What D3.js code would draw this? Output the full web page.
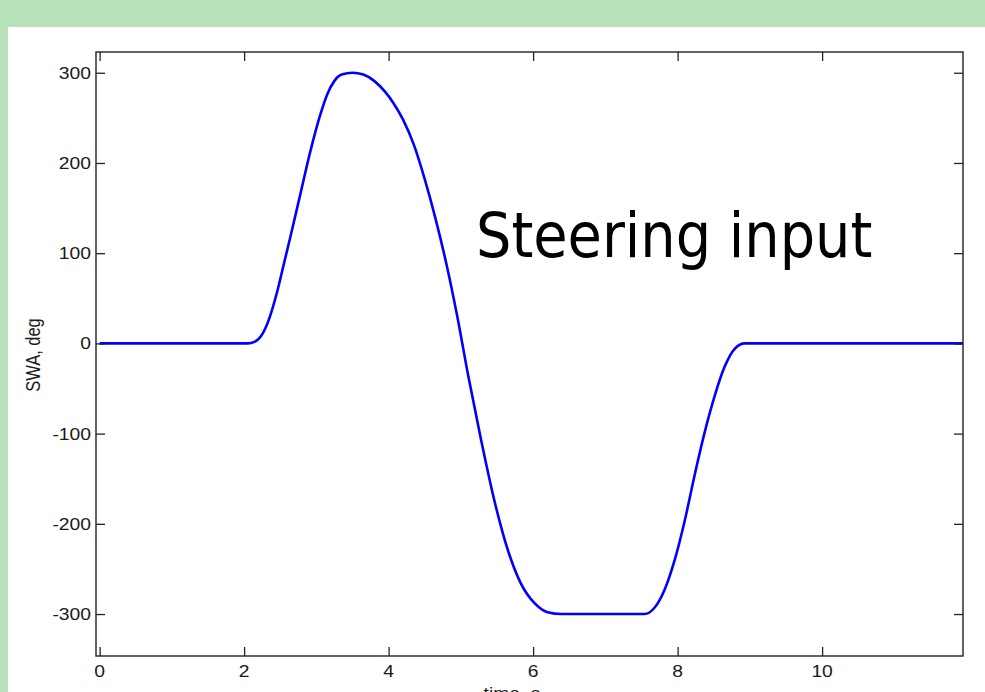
<!DOCTYPE html>
<html>
<head>
<meta charset="utf-8">
<script src="https://cdn.jsdelivr.net/npm/d3@7"></script>
<style>
  html, body { margin: 0; padding: 0; background: #fff; }
  svg { display: block; }
  .tick-label { font-family: "Liberation Sans", Arial, sans-serif; font-size: 16.5px; fill: #1a1a1a; }
</style>
</head>
<body>
<div id="chart"></div>
<script>
// ---------- Data ----------
const timeS = [0, 2.05, 2.15, 2.25, 2.35, 2.45, 2.55, 2.64, 2.78, 2.92, 3.06, 3.15, 3.25, 3.35,
  3.50, 3.65, 3.80, 3.95, 4.07, 4.20, 4.35, 4.50, 4.65, 4.80, 4.95, 5.10, 5.28, 5.46, 5.65,
  5.83, 6.02, 6.20, 6.39, 7.54, 7.68, 7.82, 7.96, 8.10, 8.23, 8.37, 8.51, 8.65, 8.79, 8.93, 11.95];
const swaDeg = [0, 0, 2, 10, 28, 55, 88, 118, 166, 214, 255, 276, 291, 298,
  300, 298, 291, 279, 266, 248, 220, 182, 138, 88, 30, -35, -107, -173, -229,
  -266, -288, -298, -300, -300, -293, -273, -240, -196, -148, -100, -59, -26, -6, 0, 0];

const xTicks = [0, 2, 4, 6, 8, 10];
const yTicks = [300, 200, 100, 0, -100, -200, -300];

const W = 985, H = 692;
const box = { left: 96, right: 963, top: 52, bottom: 656 };
const stretch = 1.17; // the source figure is a bit wide

const svg = d3.select("#chart").append("svg")
  .attr("width", W)
  .attr("height", H);

// slide background
svg.append("rect").attr("width", W).attr("height", H).attr("fill", "#ffffff");
svg.append("rect").attr("width", W).attr("height", 27).attr("fill", "#b7e1b9");
svg.append("rect").attr("width", 8).attr("height", H).attr("fill", "#b7e1b9");

const x = d3.scaleLinear().domain([-0.05, 11.95]).range([box.left, box.right]);
const y = d3.scaleLinear().domain([-346.5, 323]).range([box.bottom, box.top]);

// ---------- Curve ----------
const pts = timeS.map((t, i) => [t, swaDeg[i]]);
const line = d3.line()
  .x(d => x(d[0]))
  .y(d => y(d[1]))
  .curve(d3.curveMonotoneX);

svg.append("path")
  .datum(pts)
  .attr("d", line)
  .attr("fill", "none")
  .attr("stroke", "#0000ff")
  .attr("stroke-width", 2.6)
  .attr("stroke-linejoin", "round");

// ---------- Axes (inward ticks on all four sides) ----------
function styleAxis(g) {
  g.select(".domain").remove();
  g.selectAll(".tick line").attr("stroke", "#222").attr("stroke-width", 1.3);
}

svg.append("g").attr("transform", `translate(${box.left},0)`)
  .call(d3.axisLeft(y).tickValues(yTicks).tickSize(-9).tickFormat(""))
  .call(styleAxis);
svg.append("g").attr("transform", `translate(${box.right},0)`)
  .call(d3.axisRight(y).tickValues(yTicks).tickSize(-9).tickFormat(""))
  .call(styleAxis);
svg.append("g").attr("transform", `translate(0,${box.bottom})`)
  .call(d3.axisBottom(x).tickValues(xTicks).tickSize(-9).tickFormat(""))
  .call(styleAxis);
svg.append("g").attr("transform", `translate(0,${box.top})`)
  .call(d3.axisTop(x).tickValues(xTicks).tickSize(-9).tickFormat(""))
  .call(styleAxis);

svg.append("rect")
  .attr("x", box.left).attr("y", box.top)
  .attr("width", box.right - box.left)
  .attr("height", box.bottom - box.top)
  .attr("fill", "none")
  .attr("stroke", "#222")
  .attr("stroke-width", 1.4);

// tick labels
svg.selectAll("text.ylab")
  .data(yTicks)
  .enter().append("text")
  .attr("class", "tick-label ylab")
  .attr("text-anchor", "end")
  .attr("transform", d => `translate(91,${y(d) + 6}) scale(${stretch},1)`)
  .text(d => d);

svg.selectAll("text.xlab")
  .data(xTicks)
  .enter().append("text")
  .attr("class", "tick-label xlab")
  .attr("text-anchor", "middle")
  .attr("transform", d => `translate(${x(d)},677) scale(${stretch},1)`)
  .text(d => d);

// axis titles
svg.append("text")
  .attr("class", "tick-label")
  .attr("text-anchor", "middle")
  .attr("transform", `translate(40,355) scale(${stretch},1) rotate(-90)`)
  .text("SWA, deg");

// the slide crops this label at the bottom edge, as in the source
svg.append("text")
  .attr("class", "tick-label")
  .attr("text-anchor", "middle")
  .attr("transform", `translate(512,699) scale(${stretch},1)`)
  .text("time, s");

// annotation
svg.append("text")
  .attr("x", 476)
  .attr("y", 257)
  .attr("font-family", "'DejaVu Sans Condensed', 'DejaVu Sans', sans-serif")
  .attr("font-stretch", "condensed")
  .attr("font-size", 62)
  .attr("fill", "#000")
  .text("Steering input");
</script>
</body>
</html>
